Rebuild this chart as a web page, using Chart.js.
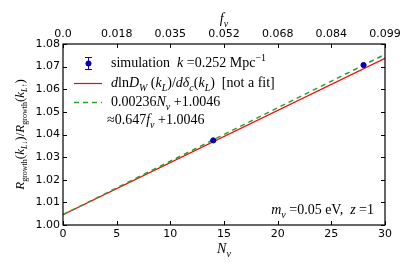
<!DOCTYPE html>
<html>
<head>
<meta charset="utf-8">
<script src="https://cdn.jsdelivr.net/npm/chart.js@4.4.0/dist/chart.umd.min.js"></script>
<style>
  html, body { margin: 0; padding: 0; background: #fff; }
  #wrap { width: 413px; height: 275px; }
</style>
</head>
<body>
<div id="wrap"><canvas id="c" width="413" height="275"></canvas></div>
<script>
// data
const simN = [14, 28];
const simR = [1.0374, 1.0707];
const theoryN = [0, 30];
const theoryR = [1.0046, 1.0737];
const fitN = [0, 30];
const fitR = [1.0046, 1.0754];
const xTicks = [0, 5, 10, 15, 20, 25, 30];
const fTickLabels = ['0.0', '0.018', '0.035', '0.052', '0.068', '0.084', '0.099'];
const yTicks = [1.00, 1.01, 1.02, 1.03, 1.04, 1.05, 1.06, 1.07, 1.08];

const pts = (xs, ys) => xs.map((x, i) => ({ x: x, y: ys[i] }));
const SERIF = '"Liberation Serif", "DejaVu Serif", serif';
const SANS = '"DejaVu Sans", sans-serif';

// draw text made of pieces: {t, i: italic, s: 'sub' | 'sup'}
function rich(ctx, x, y, segs, size, align, subScale) {
  const k = subScale || 0.7;
  const fontOf = s => (s.i ? 'italic ' : '') + (s.s ? Math.round(size * k) : size) + 'px ' + SERIF;
  let w = 0;
  segs.forEach(s => { ctx.font = fontOf(s); w += ctx.measureText(s.t).width; });
  let cx = align === 'center' ? x - w / 2 : (align === 'right' ? x - w : x);
  ctx.textAlign = 'left';
  ctx.textBaseline = 'alphabetic';
  segs.forEach(s => {
    ctx.font = fontOf(s);
    let dy = s.s === 'sub' ? size * 0.25 : (s.s === 'sup' ? -size * 0.4 : 0);
    ctx.fillText(s.t, cx, y + dy);
    cx += ctx.measureText(s.t).width;
  });
}

const extras = {
  id: 'extras',
  afterDraw(chart) {
    const ctx = chart.ctx;
    const a = chart.chartArea;
    const sx = chart.scales.x, sy = chart.scales.y;
    ctx.save();
    // frame
    ctx.strokeStyle = '#000';
    ctx.lineWidth = 1.2;
    ctx.strokeRect(a.left, a.top, a.right - a.left, a.bottom - a.top);
    // inward ticks on all four sides
    ctx.lineWidth = 1;
    ctx.beginPath();
    xTicks.forEach(v => {
      const px = Math.round(sx.getPixelForValue(v)) + 0.5;
      ctx.moveTo(px, a.bottom); ctx.lineTo(px, a.bottom - 4);
      ctx.moveTo(px, a.top); ctx.lineTo(px, a.top + 4);
    });
    yTicks.forEach(v => {
      const py = Math.round(sy.getPixelForValue(v)) + 0.5;
      ctx.moveTo(a.left, py); ctx.lineTo(a.left + 4, py);
      ctx.moveTo(a.right, py); ctx.lineTo(a.right - 4, py);
    });
    ctx.stroke();

    ctx.fillStyle = '#000';
    // axis titles
    rich(ctx, (a.left + a.right) / 2, 253, [{ t: 'N', i: true }, { t: 'ν', i: true, s: 'sub' }], 14, 'center');
    rich(ctx, (a.left + a.right) / 2, 23, [{ t: 'f', i: true }, { t: 'ν', i: true, s: 'sub' }], 14, 'center');
    ctx.save();
    ctx.translate(24, (a.top + a.bottom) / 2);
    ctx.rotate(-Math.PI / 2);
    rich(ctx, 0, 0, [
      { t: 'R', i: true }, { t: 'growth', s: 'sub' }, { t: '(' }, { t: 'k', i: true }, { t: 'L↓', i: true, s: 'sub' },
      { t: ')/' }, { t: 'R', i: true }, { t: 'growth', s: 'sub' }, { t: '(' }, { t: 'k', i: true }, { t: 'L↑', i: true, s: 'sub' }, { t: ')' }
    ], 13, 'center', 0.62);
    ctx.restore();

    // legend
    const lx = 74, tx = 111;
    // error bar symbol
    ctx.strokeStyle = '#0000ff';
    ctx.lineWidth = 1;
    ctx.beginPath();
    ctx.moveTo(88.5, 57); ctx.lineTo(88.5, 70);
    ctx.moveTo(85, 57.5); ctx.lineTo(92, 57.5);
    ctx.moveTo(85, 69.5); ctx.lineTo(92, 69.5);
    ctx.stroke();
    ctx.fillStyle = '#0000cc';
    ctx.beginPath(); ctx.arc(88.5, 63.5, 2.6, 0, Math.PI * 2); ctx.fill();
    ctx.strokeStyle = '#000080'; ctx.stroke();
    // red line
    ctx.strokeStyle = '#ff0000'; ctx.lineWidth = 1.2;
    ctx.beginPath(); ctx.moveTo(lx, 83.5); ctx.lineTo(102, 83.5); ctx.stroke();
    // green dashed
    ctx.strokeStyle = '#2ca02c'; ctx.lineWidth = 1.5; ctx.setLineDash([5, 4]);
    ctx.beginPath(); ctx.moveTo(lx, 102.5); ctx.lineTo(102, 102.5); ctx.stroke();
    ctx.setLineDash([]);

    ctx.fillStyle = '#000';
    rich(ctx, tx, 67, [{ t: 'simulation  ' }, { t: 'k', i: true }, { t: ' =0.252 Mpc' }, { t: '−1', s: 'sup' }], 14, 'left');
    rich(ctx, tx, 87, [{ t: 'd', i: true }, { t: 'ln' }, { t: 'D', i: true }, { t: 'W', i: true, s: 'sub' }, { t: ' (' }, { t: 'k', i: true }, { t: 'L', i: true, s: 'sub' },
      { t: ')/' }, { t: 'dδ', i: true }, { t: 'c', i: true, s: 'sub' }, { t: '(' }, { t: 'k', i: true }, { t: 'L', i: true, s: 'sub' }, { t: ')  [not a fit]' }], 14, 'left');
    rich(ctx, tx, 106, [{ t: '0.00236' }, { t: 'N', i: true }, { t: 'ν', i: true, s: 'sub' }, { t: ' +1.0046' }], 14, 'left');
    rich(ctx, 107, 124, [{ t: '≈0.647' }, { t: 'f', i: true }, { t: 'ν', i: true, s: 'sub' }, { t: ' +1.0046' }], 14, 'left');

    // annotation
    rich(ctx, 374, 214, [{ t: 'm', i: true }, { t: 'ν', i: true, s: 'sub' }, { t: ' =0.05 eV,  ' }, { t: 'z', i: true }, { t: ' =1' }], 14, 'right');
    ctx.restore();
  }
};

new Chart(document.getElementById('c'), {
  type: 'scatter',
  data: {
    datasets: [
      {
        data: pts(theoryN, theoryR), showLine: true, borderColor: '#ff0000', borderWidth: 1.2,
        pointRadius: 0, order: 2
      },
      {
        data: pts(fitN, fitR), showLine: true, borderColor: '#2ca02c', borderWidth: 1.5,
        borderDash: [5, 4], pointRadius: 0, order: 1
      },
      {
        data: pts(simN, simR), showLine: false, pointRadius: 2.6, backgroundColor: '#0000cc',
        borderColor: '#000080', borderWidth: 1, order: 0
      }
    ]
  },
  plugins: [extras],
  options: {
    responsive: false,
    animation: false,
    layout: { padding: { left: 0, right: 28, top: 0, bottom: 0 } },
    plugins: { legend: { display: false }, tooltip: { enabled: false } },
    scales: {
      x: {
        type: 'linear', position: 'bottom', min: 0, max: 30,
        afterBuildTicks: s => { s.ticks = xTicks.map(v => ({ value: v })); },
        afterFit: s => { s.height = 50; },
        grid: { display: false, drawTicks: false }, border: { display: false },
        ticks: { color: '#000', padding: 3, font: { family: SANS, size: 11 }, maxRotation: 0 }
      },
      x2: {
        type: 'linear', position: 'top', min: 0, max: 30,
        afterBuildTicks: s => { s.ticks = xTicks.map(v => ({ value: v })); },
        afterFit: s => { s.height = 44; },
        grid: { display: false, drawTicks: false }, border: { display: false },
        ticks: { color: '#000', padding: 3, font: { family: SANS, size: 11 }, maxRotation: 0,
          callback: (v, i) => fTickLabels[i] }
      },
      y: {
        type: 'linear', min: 1.0, max: 1.08,
        afterBuildTicks: s => { s.ticks = yTicks.map(v => ({ value: v })); },
        afterFit: s => { s.width = 63; },
        grid: { display: false, drawTicks: false }, border: { display: false },
        ticks: { color: '#000', padding: 3, font: { family: SANS, size: 11 },
          callback: v => v.toFixed(2) }
      }
    }
  }
});
</script>
</body>
</html>
